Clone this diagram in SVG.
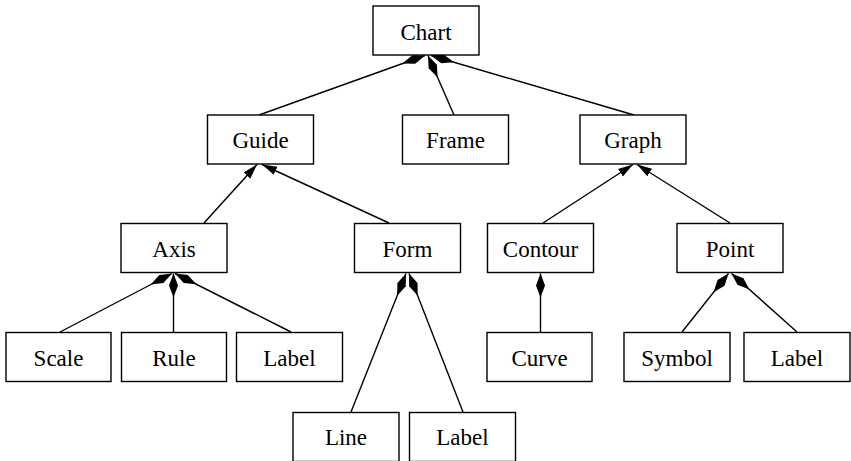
<svg xmlns="http://www.w3.org/2000/svg" width="851" height="461" viewBox="0 0 851 461">
<style>
.node rect{fill:#fff;stroke:#000;stroke-width:1.4}
.node text{font-family:'Liberation Serif','Times New Roman','DejaVu Serif',serif;font-size:23px;text-anchor:middle;fill:#000}
.edges line{stroke:#000;stroke-width:1.4}
.comp{marker-end:url(#diamond)}
.inh{marker-end:url(#arrow)}
</style>
<defs>
<marker id="diamond" markerUnits="userSpaceOnUse" orient="auto" markerWidth="26" markerHeight="12" refX="24" refY="5" viewBox="0 0 26 10">
<path d="M0,5 L12,0.5 L24,5 L12,9.5 Z" fill="#000"/>
</marker>
<marker id="arrow" markerUnits="userSpaceOnUse" orient="auto" markerWidth="16" markerHeight="12" refX="15" refY="5" viewBox="0 0 16 10">
<path d="M0,0.5 L15,5 L0,9.5 Z" fill="#000"/>
</marker>
</defs>
<rect width="851" height="461" fill="#fff"/>
<g id="connectors" class="edges">
<line class="comp" x1="259" y1="115" x2="425" y2="55.5"/>
<line class="comp" x1="454" y1="115" x2="428" y2="55.5"/>
<line class="comp" x1="634" y1="115" x2="431" y2="55.5"/>
<line class="inh" x1="204" y1="223" x2="257" y2="164.5"/>
<line class="inh" x1="389" y1="223" x2="262" y2="164.5"/>
<line class="inh" x1="543" y1="223" x2="633" y2="164.5"/>
<line class="inh" x1="730" y1="223" x2="637" y2="164.5"/>
<line class="comp" x1="60" y1="332" x2="172" y2="273.5"/>
<line class="comp" x1="173.5" y1="332" x2="173.5" y2="273.5"/>
<line class="comp" x1="291" y1="332" x2="175" y2="273.5"/>
<line class="comp" x1="351" y1="412" x2="406" y2="273.5"/>
<line class="comp" x1="463" y1="412" x2="409" y2="273.5"/>
<line class="comp" x1="540.5" y1="332" x2="540.5" y2="273.5"/>
<line class="comp" x1="682" y1="332" x2="728.5" y2="273.5"/>
<line class="comp" x1="797" y1="332" x2="731.5" y2="273.5"/>
</g>
<g id="chart" class="node" font-family="Liberation Serif"><rect x="373" y="6" width="106" height="49"/><text x="426" y="40">Chart</text></g>
<g id="guide" class="node" font-family="Liberation Serif"><rect x="207.5" y="115" width="106" height="49"/><text x="260.5" y="148">Guide</text></g>
<g id="frame" class="node" font-family="Liberation Serif"><rect x="402.5" y="115" width="106" height="49"/><text x="455.5" y="148">Frame</text></g>
<g id="graph" class="node" font-family="Liberation Serif"><rect x="580" y="115" width="106" height="49"/><text x="633" y="148">Graph</text></g>
<g id="axis" class="node" font-family="Liberation Serif"><rect x="121" y="223.5" width="106" height="49"/><text x="174" y="256.5">Axis</text></g>
<g id="form" class="node" font-family="Liberation Serif"><rect x="354.5" y="223.5" width="106" height="49"/><text x="407.5" y="256.5">Form</text></g>
<g id="contour" class="node" font-family="Liberation Serif"><rect x="487.5" y="223.5" width="106" height="49"/><text x="540.5" y="256.5">Contour</text></g>
<g id="point" class="node" font-family="Liberation Serif"><rect x="677" y="223.5" width="106" height="49"/><text x="730" y="256.5">Point</text></g>
<g id="scale" class="node" font-family="Liberation Serif"><rect x="6" y="332.5" width="105" height="49"/><text x="58.5" y="365.5">Scale</text></g>
<g id="rule" class="node" font-family="Liberation Serif"><rect x="121.5" y="332.5" width="105" height="49"/><text x="174" y="365.5">Rule</text></g>
<g id="axis-label" class="node" font-family="Liberation Serif"><rect x="236.5" y="332.5" width="106" height="49"/><text x="289.5" y="365.5">Label</text></g>
<g id="curve" class="node" font-family="Liberation Serif"><rect x="487" y="332.5" width="105" height="49"/><text x="539.5" y="365.5">Curve</text></g>
<g id="symbol" class="node" font-family="Liberation Serif"><rect x="624" y="332.5" width="106" height="49"/><text x="677" y="365.5">Symbol</text></g>
<g id="point-label" class="node" font-family="Liberation Serif"><rect x="744" y="332.5" width="106" height="49"/><text x="797" y="365.5">Label</text></g>
<g id="line" class="node" font-family="Liberation Serif"><rect x="293" y="412.5" width="106" height="49"/><text x="346" y="445">Line</text></g>
<g id="form-label" class="node" font-family="Liberation Serif"><rect x="409.5" y="412.5" width="106" height="49"/><text x="462.5" y="445">Label</text></g>
</svg>
